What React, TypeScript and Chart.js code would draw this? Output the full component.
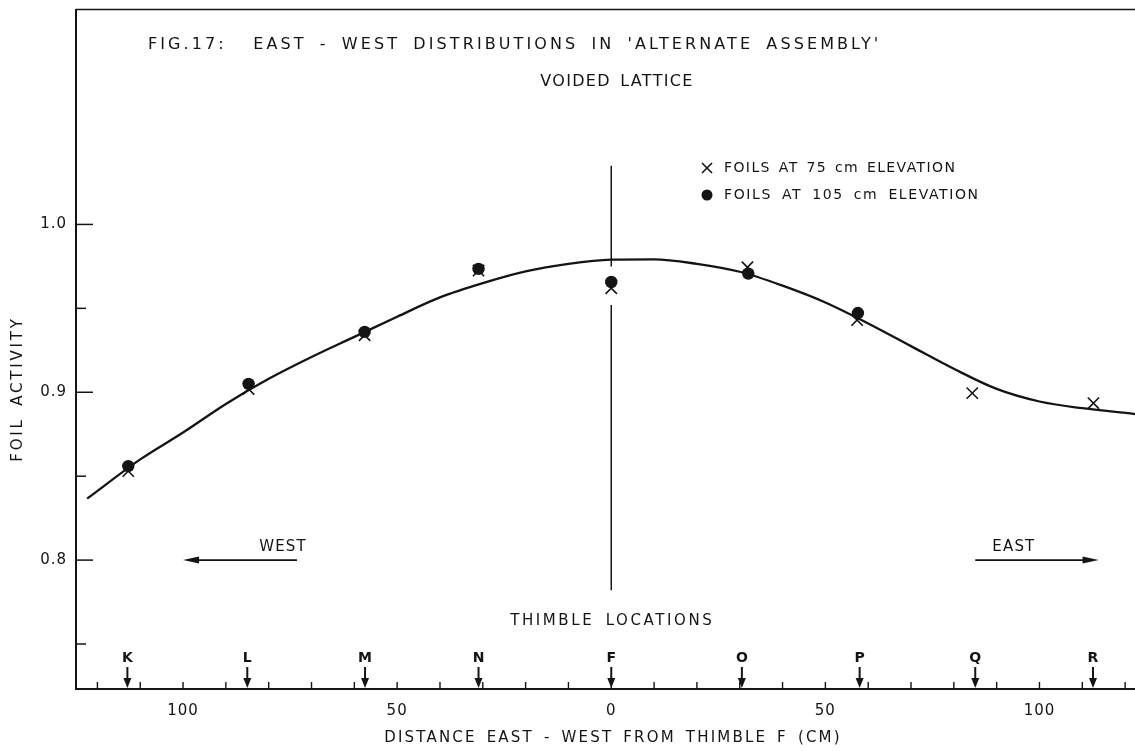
import React, { useEffect, useRef } from 'react';
import { Chart, registerables } from 'chart.js';

Chart.register(...registerables);

const INK = '#141414';
const FONT = '"DejaVu Sans", "Liberation Sans", Arial, sans-serif';

// ---- Data ----
// Thimble locations (cm from thimble F; west negative, east positive)
const thimbleLabels = ['K', 'L', 'M', 'N', 'F', 'O', 'P', 'Q', 'R'];
const thimbleX = [-113, -85, -57.5, -31, 0, 30.5, 58, 85, 112.5];

// Foils at 75 cm elevation (crosses)
const foil75X = [-112.8, -84.7, -57.6, -31, 0, 31.8, 57.4, 84.3, 112.6];
const foil75Y = [0.853, 0.902, 0.934, 0.9725, 0.962, 0.9745, 0.943, 0.8995, 0.8935];

// Foils at 105 cm elevation (filled circles)
const foil105X = [-112.8, -84.7, -57.6, -31, 0, 32, 57.6];
const foil105Y = [0.856, 0.905, 0.936, 0.9735, 0.9657, 0.9707, 0.9472];

// Fitted curve
const curveX = [-122.4, -110, -100, -90, -80, -70, -60, -50, -40, -30, -20, -10, 0, 10, 20, 30, 40, 50, 60, 70, 80, 90, 100, 110, 122.4];
const curveY = [0.8366, 0.86, 0.876, 0.893, 0.908, 0.921, 0.933, 0.945, 0.9565, 0.965, 0.972, 0.9765, 0.979, 0.9792, 0.9765, 0.9718, 0.9635, 0.9535, 0.941, 0.9275, 0.914, 0.902, 0.8945, 0.8905, 0.887];

// Vertical centre line through thimble F (broken around the data point)
const centreLineTop = [1.035, 0.975];
const centreLineBottom = [0.952, 0.782];

// Axes
const xRange = [-125, 122.4];
const yRange = [0.7232, 1.128];
const xLabelTicks = [-100, -50, 0, 50, 100];
const xMinorTicks = [-120, -110, -100, -90, -80, -70, -60, -50, -40, -30, -20, -10, 0, 10, 20, 30, 40, 50, 60, 70, 80, 90, 100, 110, 120];
const yMajorTicks = [0.8, 0.9, 1.0];
const yMinorTicks = [0.75, 0.85, 0.95];

// Direction arrows (cm, at activity level)
const westArrow = [-73.4, -100];
const eastArrow = [85, 113.8];
const arrowLevel = 0.8;

const titleLine1 = "FIG.17:  EAST - WEST DISTRIBUTIONS IN 'ALTERNATE ASSEMBLY'";
const titleLine2 = 'VOIDED LATTICE';
const legend75 = 'FOILS AT 75 cm ELEVATION';
const legend105 = 'FOILS AT 105 cm ELEVATION';
const xTitle = 'DISTANCE EAST - WEST FROM THIMBLE F (CM)';
const yTitle = 'FOIL ACTIVITY';
const thimbleTitle = 'THIMBLE LOCATIONS';

function seg(ctx: CanvasRenderingContext2D, x1: number, y1: number, x2: number, y2: number) {
  ctx.beginPath();
  ctx.moveTo(x1, y1);
  ctx.lineTo(x2, y2);
  ctx.stroke();
}

function text(
  ctx: CanvasRenderingContext2D,
  s: string,
  x: number,
  y: number,
  size: number,
  spacing: number,
  align: CanvasTextAlign,
  wordGap = 0,
  weight = 'normal'
) {
  ctx.font = `${weight} ${size}px ${FONT}`;
  (ctx as any).letterSpacing = `${spacing}px`;
  (ctx as any).wordSpacing = `${wordGap}px`;
  ctx.textAlign = align;
  ctx.textBaseline = 'middle';
  ctx.fillText(s, x, y);
}

const decorPlugin = {
  id: 'decor',
  beforeDraw(chart: any) {
    const ctx = chart.ctx as CanvasRenderingContext2D;
    ctx.save();
    ctx.fillStyle = '#ffffff';
    ctx.fillRect(0, 0, chart.width, chart.height);
    ctx.restore();
    (ctx as any).letterSpacing = '1px';
    (ctx as any).wordSpacing = '0px';
  },
  afterDraw(chart: any) {
    const ctx = chart.ctx as CanvasRenderingContext2D;
    const ca = chart.chartArea;
    const xs = chart.scales.x;
    const ys = chart.scales.y;
    ctx.save();
    ctx.strokeStyle = INK;
    ctx.fillStyle = INK;
    ctx.lineCap = 'butt';

    // top frame
    ctx.lineWidth = 1.5;
    seg(ctx, ca.left, ca.top, ca.right, ca.top);

    // y ticks (inward)
    ctx.lineWidth = 1.5;
    yMajorTicks.forEach((v) => {
      const py = ys.getPixelForValue(v);
      seg(ctx, ca.left, py, ca.left + 17, py);
    });
    yMinorTicks.forEach((v) => {
      const py = ys.getPixelForValue(v);
      seg(ctx, ca.left, py, ca.left + 10, py);
    });

    // x ticks (inward)
    ctx.lineWidth = 1.4;
    xMinorTicks.forEach((v) => {
      const px = xs.getPixelForValue(v);
      seg(ctx, px, ca.bottom, px, ca.bottom - 7);
    });

    // thimble arrows + letters
    thimbleX.forEach((v, i) => {
      const px = xs.getPixelForValue(v);
      ctx.lineWidth = 2;
      seg(ctx, px, ca.bottom - 22, px, ca.bottom - 9);
      ctx.beginPath();
      ctx.moveTo(px - 4, ca.bottom - 11);
      ctx.lineTo(px + 4, ca.bottom - 11);
      ctx.lineTo(px, ca.bottom - 1);
      ctx.closePath();
      ctx.fill();
      text(ctx, thimbleLabels[i], px, ca.bottom - 31, 14, 0, 'center', 0, 'bold');
    });
    text(ctx, thimbleTitle, xs.getPixelForValue(0) + 1, ca.bottom - 68, 15, 2.6, 'center', 4);

    // west / east arrows
    const ay = ys.getPixelForValue(arrowLevel);
    ctx.lineWidth = 1.6;
    const w0 = xs.getPixelForValue(westArrow[0]);
    const w1 = xs.getPixelForValue(westArrow[1]);
    seg(ctx, w0, ay, w1 + 8, ay);
    ctx.beginPath();
    ctx.moveTo(w1, ay);
    ctx.lineTo(w1 + 16, ay - 3.5);
    ctx.lineTo(w1 + 16, ay + 3.5);
    ctx.closePath();
    ctx.fill();
    text(ctx, 'WEST', w0 + 10, ay - 13, 15, 1.2, 'right');

    const e0 = xs.getPixelForValue(eastArrow[0]);
    const e1 = xs.getPixelForValue(eastArrow[1]);
    seg(ctx, e0, ay, e1 - 8, ay);
    ctx.beginPath();
    ctx.moveTo(e1, ay);
    ctx.lineTo(e1 - 16, ay - 3.5);
    ctx.lineTo(e1 - 16, ay + 3.5);
    ctx.closePath();
    ctx.fill();
    text(ctx, 'EAST', e0 + 17, ay - 13, 15, 1.2, 'left');

    // titles
    text(ctx, titleLine1, 148, 45, 16, 3.1, 'left', 5);
    text(ctx, titleLine2, 617, 82, 16, 1.3, 'center', 3);

    // legend
    const lx = 707;
    ctx.lineWidth = 1.6;
    seg(ctx, lx - 5, 168 - 5, lx + 5, 168 + 5);
    seg(ctx, lx + 5, 168 - 5, lx - 5, 168 + 5);
    ctx.beginPath();
    ctx.arc(lx, 195, 5.5, 0, Math.PI * 2);
    ctx.fill();
    text(ctx, legend75, 724, 168, 14, 1.4, 'left', 2);
    text(ctx, legend105, 724, 195, 14, 1.6, 'left', 4);

    // axis titles
    text(ctx, xTitle, 613, 738, 15, 2.2, 'center', 3);
    ctx.save();
    ctx.translate(18, 389);
    ctx.rotate(-Math.PI / 2);
    text(ctx, yTitle, 0, 0, 15, 2.8, 'center', 4);
    ctx.restore();

    ctx.restore();
  },
};

export default function App() {
  const canvasRef = useRef<HTMLCanvasElement | null>(null);

  useEffect(() => {
    const canvas = canvasRef.current;
    if (!canvas) return;
    const chart = new Chart(canvas, {
      type: 'scatter',
      data: {
        datasets: [
          {
            label: legend105,
            data: foil105X.map((x, i) => ({ x, y: foil105Y[i] })),
            pointStyle: 'circle',
            pointRadius: 6.2,
            pointBackgroundColor: INK,
            pointBorderColor: INK,
            pointBorderWidth: 0,
            showLine: false,
          },
          {
            label: legend75,
            data: foil75X.map((x, i) => ({ x, y: foil75Y[i] })),
            pointStyle: 'crossRot',
            pointRadius: 8,
            pointBorderColor: INK,
            pointBorderWidth: 1.6,
            showLine: false,
          },
          {
            label: 'curve',
            data: curveX.map((x, i) => ({ x, y: curveY[i] })),
            showLine: true,
            pointRadius: 0,
            borderColor: INK,
            borderWidth: 2.3,
            cubicInterpolationMode: 'monotone',
            fill: false,
          },
          {
            label: 'centre',
            data: [
              { x: 0, y: centreLineTop[0] },
              { x: 0, y: centreLineTop[1] },
              { x: 0, y: null },
              { x: 0, y: centreLineBottom[0] },
              { x: 0, y: centreLineBottom[1] },
            ],
            showLine: true,
            spanGaps: false,
            pointRadius: 0,
            borderColor: INK,
            borderWidth: 1.5,
            tension: 0,
          },
        ] as any,
      },
      options: {
        animation: false,
        responsive: false,
        devicePixelRatio: 1,
        layout: { padding: { top: 9, right: 0, left: 0, bottom: 0 } },
        plugins: {
          legend: { display: false },
          tooltip: { enabled: false },
          title: { display: false },
        },
        scales: {
          x: {
            type: 'linear',
            min: xRange[0],
            max: xRange[1],
            afterBuildTicks: (s: any) => {
              s.ticks = xLabelTicks.map((value) => ({ value }));
            },
            afterFit: (s: any) => {
              s.height = 62;
              s.paddingLeft = 0;
              s.paddingRight = 0;
              s.paddingTop = 0;
              s.paddingBottom = 0;
            },
            ticks: {
              callback: (v: any) => String(Math.abs(Number(v))),
              color: INK,
              font: { family: FONT, size: 15 },
              padding: 13,
              maxRotation: 0,
              autoSkip: false,
            },
            grid: { display: false, drawTicks: false },
            border: { display: true, color: INK, width: 2 },
          },
          y: {
            type: 'linear',
            min: yRange[0],
            max: yRange[1],
            afterBuildTicks: (s: any) => {
              s.ticks = yMajorTicks.map((value) => ({ value }));
            },
            afterFit: (s: any) => {
              s.width = 76;
              s.paddingLeft = 0;
              s.paddingRight = 0;
              s.paddingTop = 0;
              s.paddingBottom = 0;
            },
            ticks: {
              callback: (v: any) => Number(v).toFixed(1),
              color: INK,
              font: { family: FONT, size: 15 },
              padding: 9,
              autoSkip: false,
            },
            grid: { display: false, drawTicks: false },
            border: { display: true, color: INK, width: 2 },
          },
        },
      } as any,
      plugins: [decorPlugin],
    });
    return () => chart.destroy();
  }, []);

  return (
    <div style={{ position: 'fixed', left: 0, top: 0, width: 1135, height: 751, overflow: 'hidden', background: '#fff' }}>
      <canvas ref={canvasRef} width={1145} height={751} style={{ display: 'block', width: 1145, height: 751 }} />
    </div>
  );
}
